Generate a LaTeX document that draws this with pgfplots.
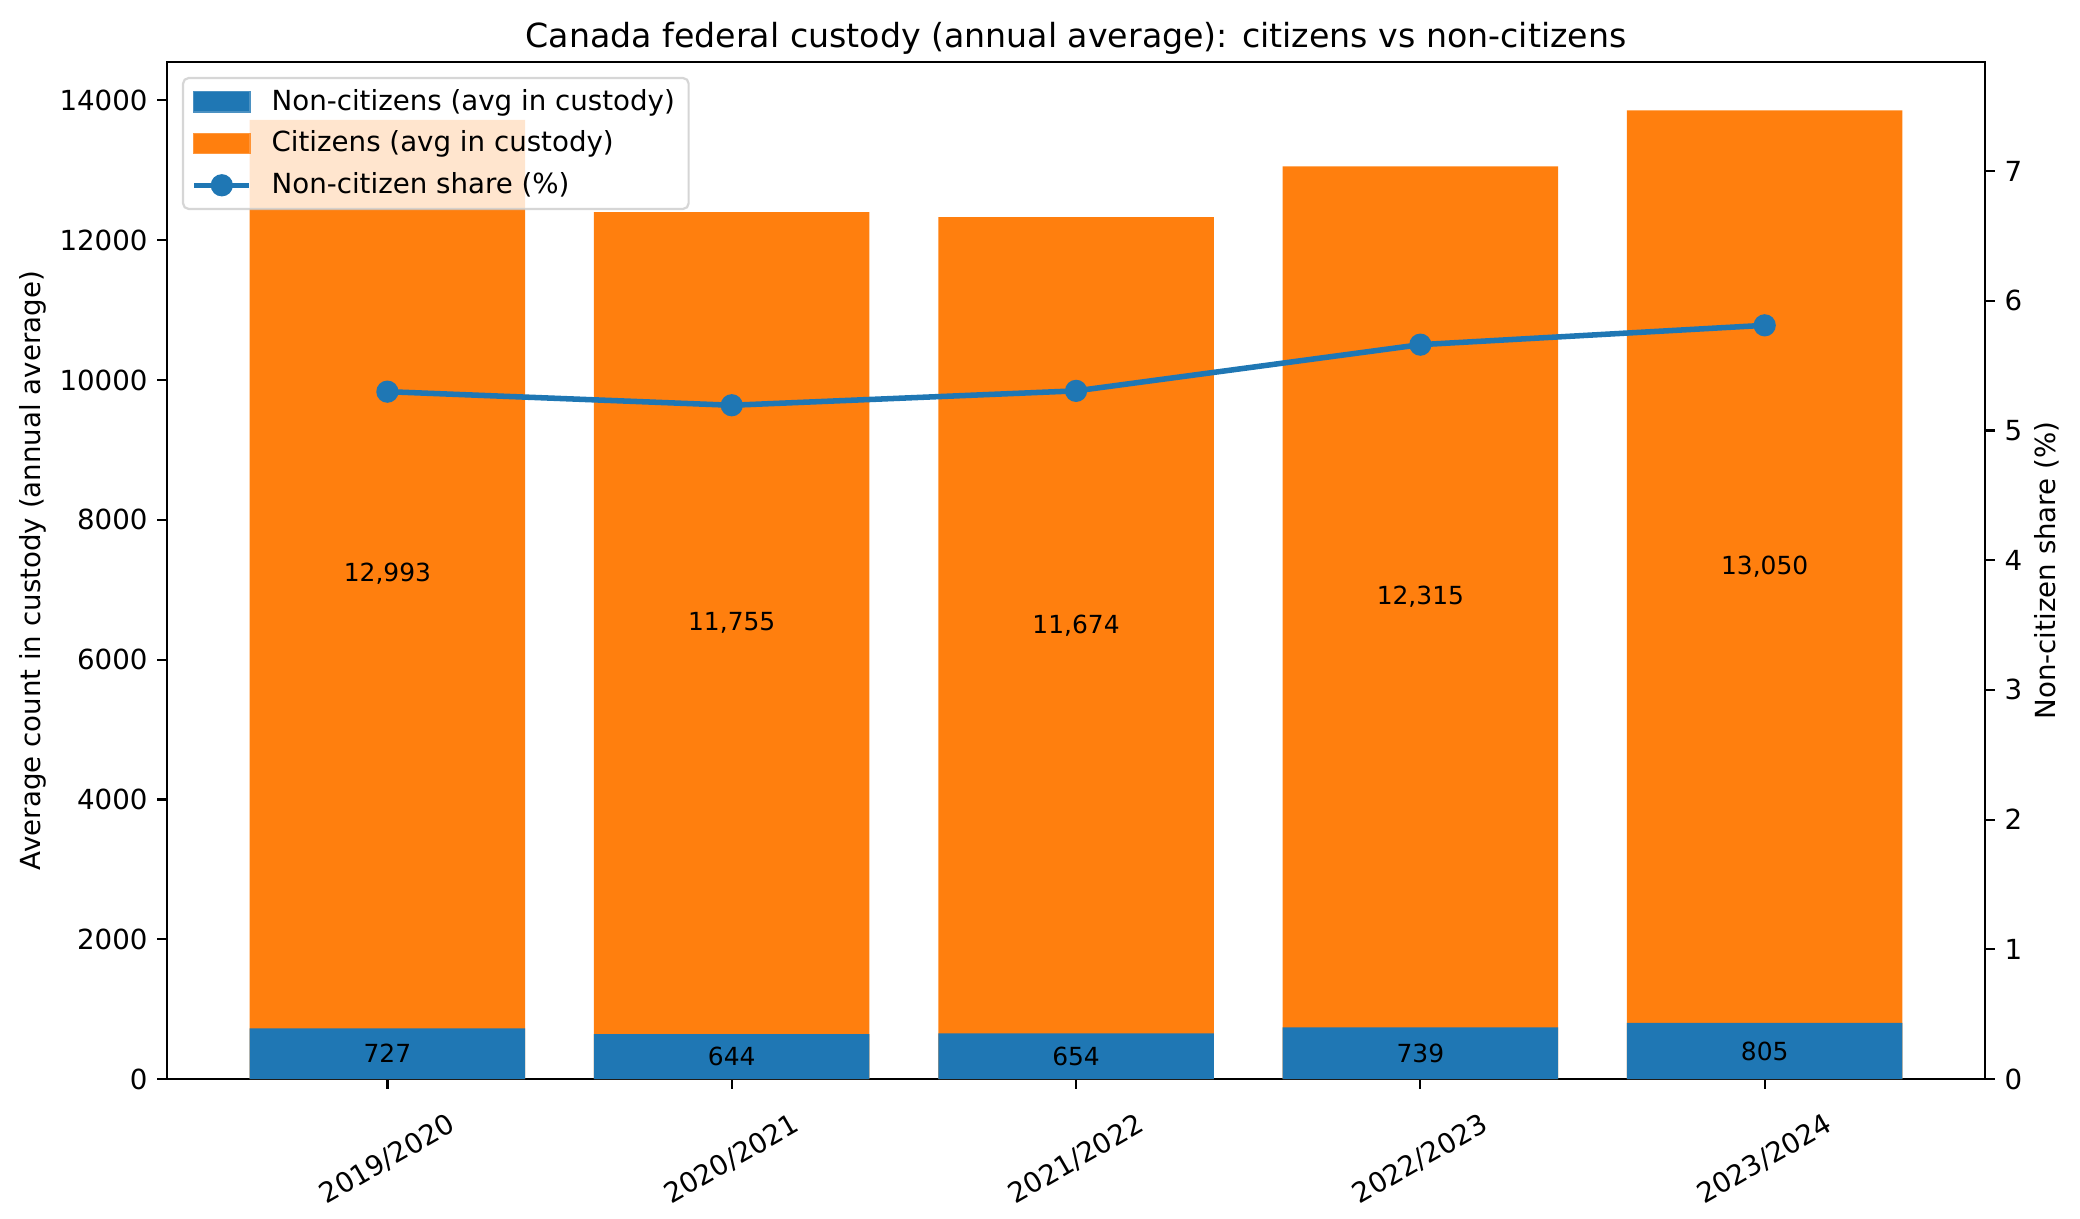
\documentclass[border=0pt]{standalone}
\usepackage{fontspec}
\setmainfont{DejaVu Sans}
\usepackage{pgfplots}
\pgfplotsset{compat=1.18}
\usepackage{pgfplotstable}
\usetikzlibrary{calc}

\definecolor{tabblue}{HTML}{1F77B4}
\definecolor{taborange}{HTML}{FF7F0E}
\definecolor{legframe}{HTML}{CCCCCC}

% annual average in federal custody
\pgfplotstableread{
x year      non  cit    share
0 2019/2020 727  12993  5.2988
1 2020/2021 644  11755  5.1940
2 2021/2022 654  11674  5.3050
3 2022/2023 739  12315  5.6611
4 2023/2024 805  13050  5.8102
}\custody

\pgfplotsset{
  twin/.style={
    scale only axis, width=656.9pt, height=367.5pt,
    xmin=-0.64, xmax=4.64,
    font=\fontsize{10}{12}\selectfont,
    /pgf/number format/assume math mode=true,
    tick align=outside, major tick length=3.5pt,
    every tick/.style={black, line width=0.8pt},
    axis line style={line width=0.8pt},
  },
  barleg/.style={legend image code/.code={\fill[#1, fill opacity=1, sharp corners]
    (0pt,-3.5pt) rectangle (20pt,3.5pt);}},
  lineleg/.style={legend image code/.code={\draw[tabblue, line width=2pt, mark=*, mark size=3pt,
    mark repeat=2, mark phase=2, draw opacity=1, fill opacity=1, sharp corners,
    mark options={fill=tabblue, draw=tabblue}]
    plot coordinates {(0pt,0pt) (10pt,0pt) (20pt,0pt)};}},
}

\begin{document}
\begin{tikzpicture}
\begin{axis}[twin, name=ax,
  ymin=0, ymax=14548,
  xtick={0,...,4},
  xticklabels={2019/2020,2020/2021,2021/2022,2022/2023,2023/2024},
  ytick={0,2000,...,14000},
  scaled y ticks=false,
  /pgf/number format/1000 sep={},
  tick pos=left,
  xticklabel style={anchor=center, yshift=-25.5pt, rotate=30},
  ylabel={Average count in custody (annual average)},
  ylabel shift=-2pt,
  title={Canada federal custody (annual average): citizens vs non-citizens},
  title style={font=\fontsize{12}{14.4}\selectfont, yshift=-6.7pt},
  legend style={at={(0,1)}, anchor=north west, xshift=5.4pt, yshift=-5.4pt,
    draw=legframe, fill=white, fill opacity=0.8, draw opacity=0.8, text opacity=1,
    rounded corners=2pt, line width=0.8pt, font=\fontsize{10}{12}\selectfont,
    cells={anchor=west}, row sep=2pt,
    /tikz/every odd column/.append style={column sep=5pt}},
]
\addplot[ybar, bar width=0.8, bar shift=0pt, fill=taborange, draw=none, forget plot]
  table[x=x, y expr=\thisrow{non}+\thisrow{cit}] {\custody};
\addplot[ybar, bar width=0.8, bar shift=0pt, fill=tabblue, draw=none, forget plot]
  table[x=x, y=non] {\custody};
% value labels at the middle of each segment
\addplot[draw=none, forget plot, point meta=explicit,
  nodes near coords={\pgfmathprintnumber[1000 sep={,}]{\pgfplotspointmeta}},
  nodes near coords align=center,
  every node near coord/.append style={font=\fontsize{9}{11}\selectfont, text=black}]
  table[x=x, y expr=\thisrow{non}/2, meta=non] {\custody};
\addplot[draw=none, forget plot, point meta=explicit,
  nodes near coords={\pgfmathprintnumber[1000 sep={,}]{\pgfplotspointmeta}},
  nodes near coords align=center,
  every node near coord/.append style={font=\fontsize{9}{11}\selectfont, text=black}]
  table[x=x, y expr=\thisrow{non}+\thisrow{cit}/2, meta=cit] {\custody};
\addlegendimage{barleg=tabblue}
\addlegendimage{barleg=taborange}
\addlegendimage{lineleg}
\legend{Non-citizens (avg in custody), Citizens (avg in custody), Non-citizen share (\%)}
\end{axis}

\begin{axis}[twin,
  ymin=0, ymax=7.84,
  axis x line=none, axis y line*=right,
  ytick={0,...,7},
  ylabel={Non-citizen share (\%)},
  ylabel shift=-2.4pt,
]
\addplot[tabblue, line width=2pt, mark=*, mark size=3pt]
  table[x=x, y=share] {\custody};
\end{axis}

\pgfresetboundingbox
\path[use as bounding box] ($(ax.south west)+(-60.35pt,-50.2pt)$) rectangle ($(ax.north east)+(34.3pt,22.4pt)$);
\end{tikzpicture}
\end{document}
